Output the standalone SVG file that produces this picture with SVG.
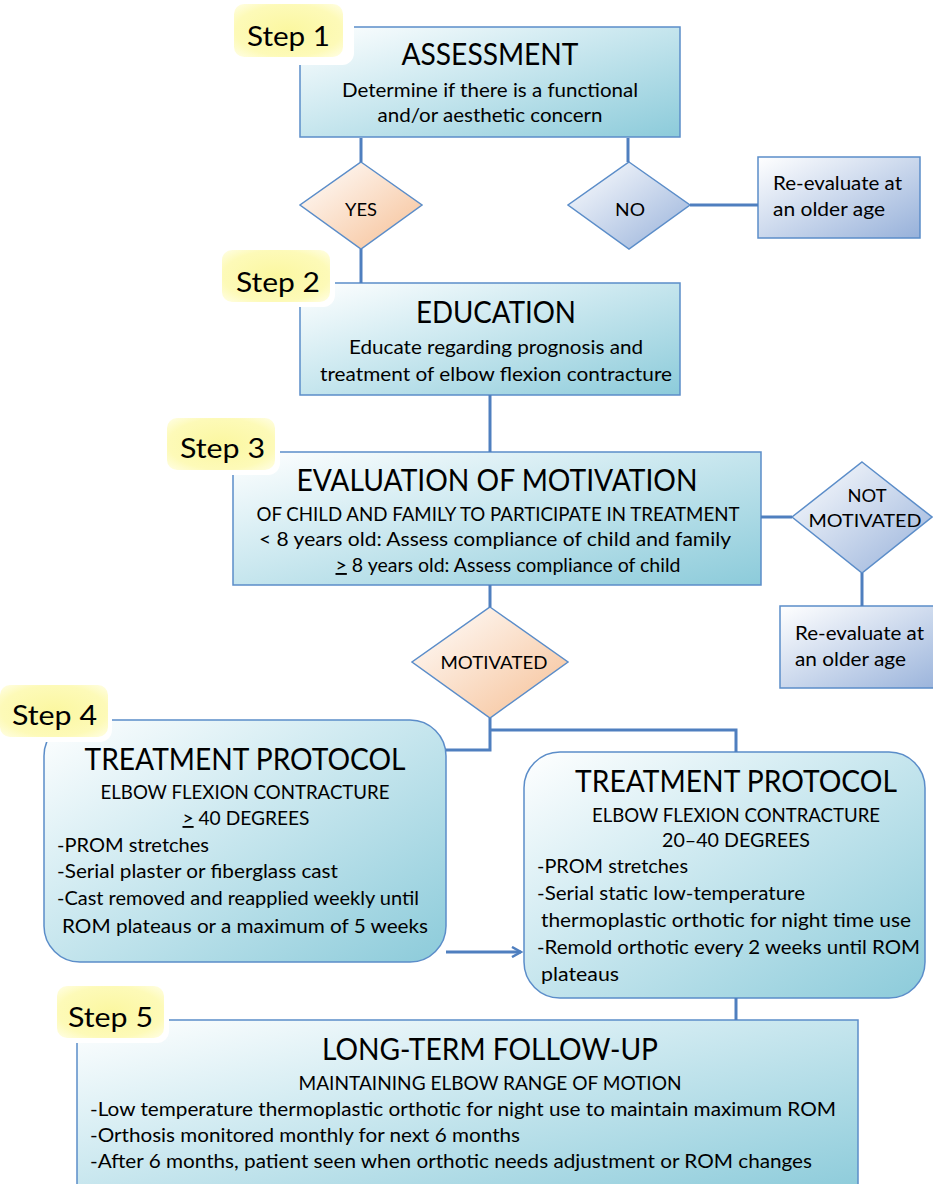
<svg xmlns="http://www.w3.org/2000/svg" width="933" height="1184" viewBox="0 0 933 1184">
<defs>
<linearGradient id="gBlue" x1="0" y1="0" x2="1" y2="1">
<stop offset="0" stop-color="#ffffff"/><stop offset="0.35" stop-color="#d6edf3"/><stop offset="1" stop-color="#8ccbda"/>
</linearGradient>
<linearGradient id="gPeach" x1="0" y1="0" x2="1" y2="1">
<stop offset="0" stop-color="#ffffff"/><stop offset="1" stop-color="#f6bf94"/>
</linearGradient>
<linearGradient id="gLav" x1="0" y1="0" x2="1" y2="1">
<stop offset="0" stop-color="#ffffff"/><stop offset="1" stop-color="#97b1da"/>
</linearGradient>
<radialGradient id="gYel" cx="0.5" cy="0.5" r="0.7">
<stop offset="0" stop-color="#fbf7a0"/><stop offset="0.7" stop-color="#fdfab8"/><stop offset="1" stop-color="#fffee6"/>
</radialGradient>
<marker id="arr" viewBox="0 0 12 12" refX="10" refY="6" markerWidth="12" markerHeight="12" markerUnits="userSpaceOnUse" orient="auto">
<path d="M1,1 L10,6 L1,11" fill="none" stroke="#4f7fbf" stroke-width="2.5"/>
</marker>
<style>
.box{fill:url(#gBlue);stroke:#5b8dc9;stroke-width:1.5}
.peach{fill:url(#gPeach);stroke:#5b8dc9;stroke-width:1.5}
.lav{fill:url(#gLav);stroke:#5b8dc9;stroke-width:1.5}
.lavbox{fill:url(#gLav);stroke:#5b8dc9;stroke-width:1.5}
.step{fill:url(#gYel);stroke:none}
.glow{fill:#ffffff}
.conn{fill:none;stroke:#4f7fbf;stroke-width:3}
text{font-family:Lato,"Open Sans","Liberation Sans",sans-serif;fill:#000}
.t{font-size:30px;text-anchor:middle}
.b{font-size:19px;text-anchor:middle}
.s{font-size:18.5px;text-anchor:middle}
.l{font-size:18.5px}
.st{font-size:27px}
.d{font-size:17px;text-anchor:middle}
</style>
</defs>

<g id="assessment">
<rect class="box" x="300" y="27" width="380" height="110"/>
<text class="t" x="490" y="65" textLength="177" lengthAdjust="spacingAndGlyphs">ASSESSMENT</text>
<text class="b" x="490" y="97" textLength="296" lengthAdjust="spacingAndGlyphs">Determine if there is a functional</text>
<text class="b" x="490" y="122" textLength="225" lengthAdjust="spacingAndGlyphs">and/or aesthetic concern</text>
</g>
<g id="step1">
<rect class="glow" x="230" y="1" width="124" height="64" rx="12"/>
<rect class="step" x="234" y="4" width="109" height="53" rx="10"/>
<text class="st" x="247" y="46" textLength="83" lengthAdjust="spacingAndGlyphs">Step 1</text>
</g>

<g id="yes">
<polygon class="peach" points="361,162 422,205 361,249 300,205"/>
<text class="d" x="361" y="216" textLength="32" lengthAdjust="spacingAndGlyphs">YES</text>
</g>
<g id="no">
<polygon class="lav" points="629,162 690,205 629,249 568,205"/>
<text class="d" x="630" y="216" textLength="30" lengthAdjust="spacingAndGlyphs">NO</text>
</g>
<g id="reeval1">
<rect class="lavbox" x="758" y="157" width="162" height="81"/>
<text class="l" x="773" y="190" textLength="129" lengthAdjust="spacingAndGlyphs">Re-evaluate at</text>
<text class="l" x="773" y="216" textLength="112" lengthAdjust="spacingAndGlyphs">an older age</text>
</g>

<g id="education">
<rect class="box" x="300" y="283" width="380" height="112"/>
<text class="t" x="496" y="323" textLength="160" lengthAdjust="spacingAndGlyphs">EDUCATION</text>
<text class="b" x="496" y="354" textLength="294" lengthAdjust="spacingAndGlyphs">Educate regarding prognosis and</text>
<text class="b" x="496" y="381" textLength="352" lengthAdjust="spacingAndGlyphs">treatment of elbow flexion contracture</text>
</g>
<g id="step2">
<rect class="glow" x="219" y="247" width="116" height="60" rx="12"/>
<rect class="step" x="222" y="250" width="108" height="52" rx="10"/>
<text class="st" x="236" y="292" textLength="84" lengthAdjust="spacingAndGlyphs">Step 2</text>
</g>

<g id="evaluation">
<rect class="box" x="233" y="452" width="528" height="133"/>
<text class="t" x="497" y="491" textLength="401" lengthAdjust="spacingAndGlyphs">EVALUATION OF MOTIVATION</text>
<text class="s" x="498" y="521" textLength="483" lengthAdjust="spacingAndGlyphs">OF CHILD AND FAMILY TO PARTICIPATE IN TREATMENT</text>
<text class="b" x="495" y="546" textLength="472" lengthAdjust="spacingAndGlyphs">&lt; 8 years old:  Assess compliance of child and family</text>
<text class="b" x="508" y="572" textLength="345" lengthAdjust="spacingAndGlyphs"><tspan text-decoration="underline">&gt;</tspan> 8 years old:  Assess compliance of child</text>
</g>
<g id="step3">
<rect class="glow" x="164" y="415" width="116" height="60" rx="12"/>
<rect class="step" x="167" y="418" width="108" height="52" rx="10"/>
<text class="st" x="180" y="458" textLength="85" lengthAdjust="spacingAndGlyphs">Step 3</text>
</g>

<g id="notmotivated">
<polygon class="lav" points="862,462 932,517 862,573 792,517"/>
<text class="d" x="867" y="502" textLength="39" lengthAdjust="spacingAndGlyphs">NOT</text>
<text class="d" x="865" y="527" textLength="113" lengthAdjust="spacingAndGlyphs">MOTIVATED</text>
</g>
<g id="reeval2">
<rect class="lavbox" x="780" y="606" width="170" height="82"/>
<text class="l" x="795" y="640" textLength="129" lengthAdjust="spacingAndGlyphs">Re-evaluate at</text>
<text class="l" x="795" y="666" textLength="111" lengthAdjust="spacingAndGlyphs">an older age</text>
</g>

<g id="motivated">
<polygon class="peach" points="490,607 568,662 490,718 412,662"/>
<text class="d" x="494" y="669" textLength="107" lengthAdjust="spacingAndGlyphs">MOTIVATED</text>
</g>

<g id="treatment40">
<rect class="box" x="44" y="720" width="402" height="242" rx="36"/>
<text class="t" x="245" y="770" textLength="321" lengthAdjust="spacingAndGlyphs">TREATMENT PROTOCOL</text>
<text class="s" x="245" y="799" textLength="289" lengthAdjust="spacingAndGlyphs">ELBOW FLEXION CONTRACTURE</text>
<text class="s" x="246" y="825" textLength="127" lengthAdjust="spacingAndGlyphs"><tspan text-decoration="underline">&gt;</tspan> 40 DEGREES</text>
<text class="l" x="57" y="852" textLength="152" lengthAdjust="spacingAndGlyphs">-PROM stretches</text>
<text class="l" x="57" y="878" textLength="281" lengthAdjust="spacingAndGlyphs">-Serial plaster or fiberglass cast</text>
<text class="l" x="57" y="905" textLength="362" lengthAdjust="spacingAndGlyphs">-Cast removed and reapplied weekly until</text>
<text class="l" x="62" y="933" textLength="366" lengthAdjust="spacingAndGlyphs">ROM plateaus or a maximum of 5 weeks</text>
</g>
<g id="step4">
<rect class="glow" x="0" y="682" width="112" height="60" rx="12"/>
<rect class="step" x="0" y="685" width="108" height="52" rx="10"/>
<text class="st" x="12" y="725" textLength="85" lengthAdjust="spacingAndGlyphs">Step 4</text>
</g>

<g id="treatment20">
<rect class="box" x="524" y="752" width="401" height="246" rx="36"/>
<text class="t" x="736" y="792" textLength="322" lengthAdjust="spacingAndGlyphs">TREATMENT PROTOCOL</text>
<text class="s" x="736" y="822" textLength="288" lengthAdjust="spacingAndGlyphs">ELBOW FLEXION CONTRACTURE</text>
<text class="s" x="736" y="847" textLength="148" lengthAdjust="spacingAndGlyphs">20–40 DEGREES</text>
<text class="l" x="537" y="873" textLength="151" lengthAdjust="spacingAndGlyphs">-PROM stretches</text>
<text class="l" x="537" y="900" textLength="268" lengthAdjust="spacingAndGlyphs">-Serial static low-temperature</text>
<text class="l" x="541" y="927" textLength="370" lengthAdjust="spacingAndGlyphs">thermoplastic orthotic for night time use</text>
<text class="l" x="537" y="954" textLength="383" lengthAdjust="spacingAndGlyphs">-Remold orthotic every 2 weeks until ROM</text>
<text class="l" x="541" y="981" textLength="78" lengthAdjust="spacingAndGlyphs">plateaus</text>
</g>

<g id="followup">
<rect class="box" x="77" y="1020" width="781" height="175"/>
<text class="t" x="490" y="1060" textLength="336" lengthAdjust="spacingAndGlyphs">LONG-TERM FOLLOW-UP</text>
<text class="s" x="490" y="1090" textLength="383" lengthAdjust="spacingAndGlyphs">MAINTAINING ELBOW RANGE OF MOTION</text>
<text class="l" x="90" y="1116" textLength="746" lengthAdjust="spacingAndGlyphs">-Low temperature thermoplastic orthotic for night use to maintain maximum ROM</text>
<text class="l" x="90" y="1142" textLength="430" lengthAdjust="spacingAndGlyphs">-Orthosis monitored monthly for next 6 months</text>
<text class="l" x="90" y="1168" textLength="722" lengthAdjust="spacingAndGlyphs">-After 6 months, patient seen when orthotic needs adjustment or ROM changes</text>
</g>
<g id="step5">
<rect class="glow" x="54" y="983" width="115" height="60" rx="12"/>
<rect class="step" x="57" y="986" width="107" height="52" rx="10"/>
<text class="st" x="68" y="1027" textLength="85" lengthAdjust="spacingAndGlyphs">Step 5</text>
</g>

<g id="connectors">
<path class="conn" d="M361,138 V162"/>
<path class="conn" d="M361,249 V283"/>
<path class="conn" d="M628,138 V162"/>
<path class="conn" d="M690,205 H758"/>
<path class="conn" d="M490,395 V452"/>
<path class="conn" d="M761,517 H792"/>
<path class="conn" d="M862,573 V606"/>
<path class="conn" d="M490,585 V607"/>
<path class="conn" d="M490,718 V750 H446"/>
<path class="conn" d="M490,730 H736 V752"/>
<path class="conn" d="M446,952 H521" marker-end="url(#arr)"/>
<path class="conn" d="M736,998 V1020"/>
</g>
</svg>
